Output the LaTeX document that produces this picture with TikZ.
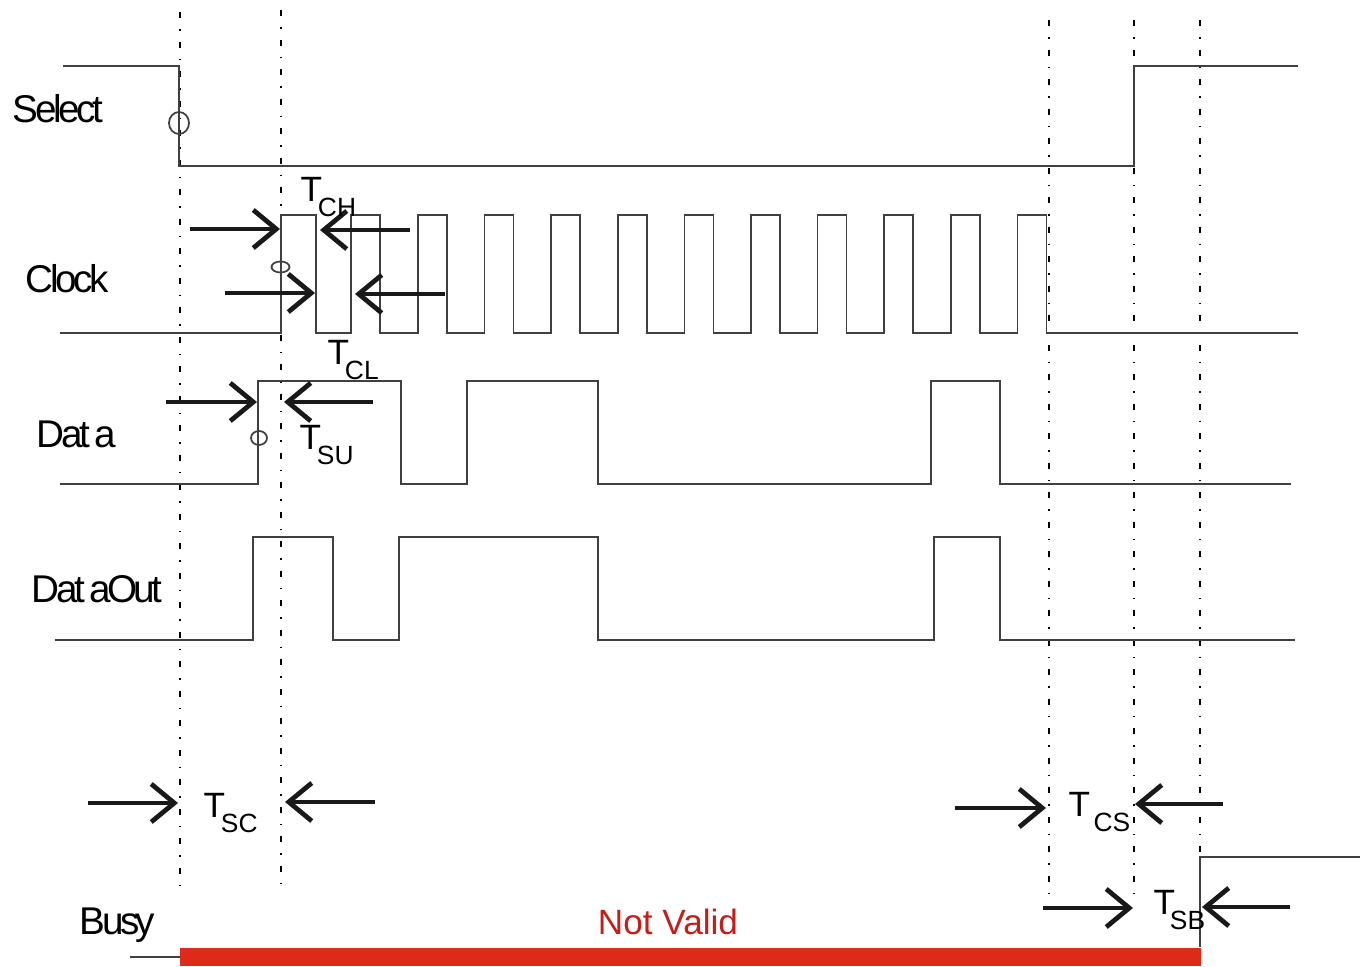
\documentclass[tikz,border=0pt]{standalone}
\usepackage{fontspec}
\setmainfont{Liberation Sans}
\newfontfamily\sigfont{Liberation Sans}[LetterSpace=-9,WordSpace=0.6]
\usetikzlibrary{arrows.meta}
\definecolor{rojo}{RGB}{221,42,27}
\definecolor{rojotxt}{RGB}{196,30,26}
\newcommand{\tsub}[2][-0.12em]{T\kern#1\raisebox{-0.42em}{\fontsize{7.5}{7.5}\selectfont #2}}

\begin{document}
\begin{tikzpicture}[x=0.01cm,y=-0.01cm,
  senal/.style={line width=0.5pt,black!75},
  guia/.style={line width=0.6pt,dash pattern=on 0.06cm off 0.11cm on 0.015cm off 0.11cm},
  flecha/.style={line width=1.35pt,black!90,-{Straight Barb[length=2.3mm,width=3.8mm]}},
  etiq/.style={font=\sigfont\fontsize{11}{12}\selectfont,inner sep=0pt,anchor=base west},
  tiempo/.style={font=\fontsize{10}{12}\selectfont,inner sep=0pt,anchor=base west}]
  \useasboundingbox (0,0) rectangle (1362,967);
  % lineas guia
  \draw[guia] (180,12) -- (180,892);
  \draw[guia] (281,10) -- (281,890);
  \foreach \x in {1049,1134} \draw[guia] (\x,20) -- (\x,903);
  \draw[guia] (1200,20) -- (1200,907);
  % nombres de las senales
  \node[etiq] (sel) at (12,123) {Select};
  \node[etiq] (clk) at (25,293) {Clock};
  \node[etiq] (dat) at (36,448) {Dat a};
  \node[etiq] (dout) at (31,603) {Dat aOut};
  \node[etiq] (busy) at (79,935) {Busy};
  % formas de onda
  \draw[senal] (63,66) -- (179,66) -- (179,166) -- (1134,166) -- (1134,66) -- (1298,66);
  \draw[senal] (60,333) foreach \r/\f in {281/316,351/380} {-- (\r,333) -- (\r,215) -- (\f,215) -- (\f,333)}
     foreach \k in {0,...,9} {-- ({418+66.6*\k},333) -- ({418+66.6*\k},215) -- ({447+66.6*\k},215) -- ({447+66.6*\k},333)}
     -- (1298,333);
  \draw[senal] (60,484) foreach \r/\f in {258/401,467/598,931/1000} {-- (\r,484) -- (\r,381) -- (\f,381) -- (\f,484)} -- (1291,484);
  \draw[senal] (55,640) foreach \r/\f in {253/333,399/598,934/1000} {-- (\r,640) -- (\r,537) -- (\f,537) -- (\f,640)} -- (1295,640);
  \draw[senal] (130,957) -- (180,957);
  \draw[senal] (1200,947) -- (1200,857) -- (1360,857);
  \fill[rojo] (180,948) rectangle (1201,966);
  % marcas
  \draw[senal] (179,123) ellipse [x radius=10,y radius=11];
  \draw[senal] (280.5,267) ellipse [x radius=9,y radius=5.5];
  \draw[senal] (259,438) ellipse [x radius=8,y radius=7];
  % tiempos
  \draw[flecha] (190,229) -- (280,229);
  \draw[flecha] (410,230) -- (320,230);
  \node[tiempo] (tch) at (300,202) {\tsub{CH}};
  \draw[flecha] (225,293) -- (315,293);
  \draw[flecha] (445,294) -- (355,294);
  \node[tiempo] (tcl) at (327,365) {\tsub{CL}};
  \draw[flecha] (166,402) -- (257,402);
  \draw[flecha] (373,402) -- (284,402);
  \node[tiempo] (tsu) at (299,450) {\tsub{SU}};
  \draw[flecha] (88,803) -- (178,803);
  \draw[flecha] (375,802) -- (285,802);
  \node[tiempo] (tsc) at (203,818) {\tsub{SC}};
  \draw[flecha] (955,808) -- (1046,808);
  \draw[flecha] (1223,804) -- (1135,804);
  \node[tiempo] (tcs) at (1068,817) {\tsub[0.1em]{CS}};
  \draw[flecha] (1043,908) -- (1133,908);
  \draw[flecha] (1290,907) -- (1202,907);
  \node[tiempo] (tsb) at (1153,915) {\tsub[-0.15em]{SB}};
  \node[font=\fontsize{10}{12}\selectfont,text=rojotxt,inner sep=0pt,anchor=base] (nv) at (668,935) {Not Valid};
\end{tikzpicture}
\end{document}
